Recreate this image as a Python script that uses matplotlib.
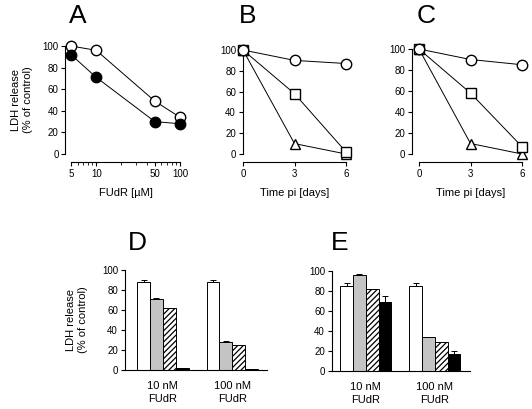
import numpy as np
import matplotlib
matplotlib.use("Agg")
import matplotlib.pyplot as plt

plt.rcParams['font.family'] = ['Liberation Sans', 'DejaVu Sans']
plt.rcParams['hatch.linewidth'] = 0.9

# panel A: dose response
fudr_um = [5, 10, 50, 100]
a_open = [100, 96, 49, 34]
a_filled = [92, 71, 30, 28]

# panels B, C: time course
days = [0, 3, 6]
b_circle = [100, 90, 87]
b_square = [100, 58, 2]
b_triangle = [100, 10, 0]
c_circle = [100, 90, 85]
c_square = [100, 58, 7]
c_triangle = [100, 10, 0]

# panels D, E: bars (white, gray, hatched, black) per group
groups = ['10 nM\nFUdR', '100 nM\nFUdR']
d_vals = [[88, 71, 62, 2], [88, 28.5, 24.7, 0.7]]
d_err = [[2.5, 1.5, 0, 0.4], [1.6, 0.4, 0, 0.3]]
e_vals = [[85.5, 96.5, 82, 69], [85, 34.5, 29.3, 17.5]]
e_err = [[2.5, 0.3, 0.3, 6], [2.8, 0, 0, 3]]

W, H = 532, 409
fig = plt.figure(figsize=(W / 100, H / 100), dpi=100)


def px_ax(x0, x1, ytop, ybot):
    return fig.add_axes([x0 / W, 1 - ybot / H, (x1 - x0) / W, (ybot - ytop) / H])


def style(ax, left_off=0, bottom_off=6):
    ax.spines['top'].set_visible(False)
    ax.spines['right'].set_visible(False)
    ax.spines['left'].set_position(('outward', left_off))
    ax.spines['bottom'].set_position(('outward', bottom_off))
    for s in ax.spines.values():
        s.set_linewidth(0.8)
    ax.tick_params(direction='out', length=3, width=0.8, labelsize=7, pad=2)
    ax.set_ylim(0, 100)
    ax.set_yticks([0, 20, 40, 60, 80, 100])


lw = 0.7
ms = 7.5

# A
ax = px_ax(71, 180, 46, 154)
style(ax, left_off=4, bottom_off=6)
ax.set_xscale('log')
ax.set_xlim(5, 100)
ax.plot(fudr_um, a_open, '-o', color='black', mfc='white', mec='black', lw=lw, ms=ms, clip_on=False, zorder=3)
ax.plot(fudr_um, a_filled, '-o', color='black', mfc='black', lw=lw, ms=ms, clip_on=False, zorder=3)
ax.set_xticks([5, 10, 50, 100])
ax.set_xticklabels(['5', '10', '50', '100'])
ax.tick_params(which='minor', length=2, width=0.6)
ax.set_xlabel('FUdR [\u00b5M]', fontsize=8, labelpad=6)
ax.set_ylabel('LDH release\n(% of control)', fontsize=8, labelpad=7)

# B, C
for x0, x1, yt, loff, circ, sq, tri in [(243, 346, 50, 0, b_circle, b_square, b_triangle),
                                         (419, 522, 49, 5, c_circle, c_square, c_triangle)]:
    ax = px_ax(x0, x1, yt, 154)
    style(ax, left_off=loff, bottom_off=6)
    ax.set_xlim(0, 6)
    ax.plot(days, tri, '-^', color='black', mfc='white', lw=lw, ms=ms, clip_on=False, zorder=3)
    ax.plot(days, sq, '-s', color='black', mfc='white', lw=lw, ms=ms - 1, clip_on=False, zorder=3)
    ax.plot(days, circ, '-o', color='black', mfc='white', lw=lw, ms=ms, clip_on=False, zorder=4)
    ax.set_xticks(days)
    ax.set_xlabel('Time pi [days]', fontsize=8, labelpad=6)

# D, E
faces = ['white', '#c4c4c4', 'white', 'black']
hatches = [None, None, '//////', None]
offset = 5.4
for x0, x1, yt, yb, vals, errs, lgap, rgap in [(125, 267, 270, 370, d_vals, d_err, 0.95, 0.7),
                                               (332, 470, 271, 371, e_vals, e_err, 0.65, 0.75)]:
    ax = px_ax(x0, x1, yt, yb)
    style(ax, left_off=0, bottom_off=0)
    for g in range(2):
        pos = np.arange(4) + g * offset
        for k in range(4):
            ax.bar(pos[k], vals[g][k], width=1.0, color=faces[k], edgecolor='black',
                   linewidth=0.7, hatch=hatches[k], zorder=2)
            if errs[g][k] > 0:
                ax.errorbar(pos[k], vals[g][k], yerr=[[0], [errs[g][k]]], color='black',
                            elinewidth=0.7, capsize=2, capthick=0.7, zorder=3)
    ax.set_xlim(-0.5 - lgap, 3.5 + offset + rgap)
    ax.set_xticks([1.5, 1.5 + offset])
    ax.set_xticklabels(groups, fontsize=8, linespacing=1.35)
    ax.tick_params(axis='x', length=0, pad=8)
    if x0 < 200:
        ax.set_ylabel('LDH release\n(% of control)', fontsize=8, labelpad=10)

# panel letters
for letter, x, y in [('A', 78, 16), ('B', 248, 16), ('C', 426, 16), ('D', 137, 243), ('E', 340, 243)]:
    fig.text(x / W, 1 - y / H, letter, fontsize=19, ha='center', va='center')

fig.savefig('out.png', dpi=100)
